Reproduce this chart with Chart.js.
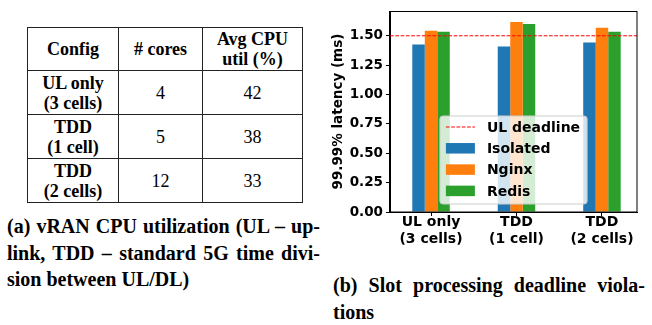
<!DOCTYPE html>
<html>
<head>
<meta charset="utf-8">
<script src="https://cdn.jsdelivr.net/npm/chart.js@4"></script>
<style>
  html, body { margin: 0; padding: 0; background: #fff; }
  body { width: 652px; height: 325px; position: relative; overflow: hidden; }
  .serif { font-family: "Liberation Serif", "Times New Roman", serif; color: #000; }
  table.cpu {
    position: absolute; left: 27px; top: 27px;
    border-collapse: collapse; font-size: 18px; line-height: 20px;
  }
  table.cpu td, table.cpu th {
    border: 1px solid #222; text-align: center; vertical-align: middle; padding: 0;
  }
  table.cpu th { font-weight: bold; height: 42px; }
  table.cpu td { height: 43px; font-weight: normal; }
  table.cpu td.cfg { font-weight: bold; }
  .caption { position: absolute; font-weight: bold; font-size: 20px; line-height: 26.7px; }
  .caption div { text-align: justify; text-align-last: justify; white-space: nowrap; }
  .caption div.last { text-align: left; text-align-last: left; }
  #box { position: absolute; left: 330px; top: 0; width: 322px; height: 250px; }
</style>
</head>
<body>
<table class="cpu serif">
  <colgroup><col style="width:91px"><col style="width:84px"><col style="width:100px"></colgroup>
  <tr><th>Config</th><th># cores</th><th>Avg CPU<br>util (%)</th></tr>
  <tr><td class="cfg">UL only<br>(3 cells)</td><td>4</td><td>42</td></tr>
  <tr><td class="cfg">TDD<br>(1 cell)</td><td>5</td><td>38</td></tr>
  <tr><td class="cfg">TDD<br>(2 cells)</td><td>12</td><td>33</td></tr>
</table>

<div class="caption serif" style="left:7px; top:213px; width:313px;">
  <div>(a) vRAN CPU utilization (UL – up-</div>
  <div>link, TDD – standard 5G time divi-</div>
  <div class="last">sion between UL/DL)</div>
</div>

<div class="caption serif" style="left:333px; top:272px; width:312px;">
  <div>(b) Slot processing deadline viola-</div>
  <div class="last">tions</div>
</div>

<div id="box"><canvas id="latencyChart" width="322" height="250"></canvas></div>

<script>
const groupLabels = [["UL only", "(3 cells)"], ["TDD", "(1 cell)"], ["TDD", "(2 cells)"]]
const groupPositions = [0, 1, 2]
const isolated = [1.425, 1.408, 1.442]
const nginx = [1.542, 1.618, 1.568]
const redis = [1.534, 1.601, 1.534]
const deadline = 1.5
const yTicks = [0, 0.25, 0.5, 0.75, 1.0, 1.25, 1.5]

const SANS = "'DejaVu Sans', sans-serif"

// dashed deadline, full frame and the in-plot legend
const overlayPlugin = {
  id: "overlay",
  afterDatasetsDraw(chart){
    const ctx = chart.ctx
    const area = chart.chartArea
    const yPix = chart.scales.y.getPixelForValue(deadline)

    ctx.save()
    ctx.strokeStyle = "#ff0000"
    ctx.lineWidth = 1
    ctx.setLineDash([3.7, 1.6])
    ctx.beginPath()
    ctx.moveTo(area.left, yPix)
    ctx.lineTo(area.right, yPix)
    ctx.stroke()
    ctx.restore()

    const entries = [{ label: "UL deadline", line: true, color: "#ff0000" }]
    chart.data.datasets.forEach((ds) => entries.push({ label: ds.label, color: ds.backgroundColor }))

    ctx.save()
    ctx.font = "bold 14px " + SANS
    const textW = Math.max(...entries.map((e) => ctx.measureText(e.label).width))
    const padL = 6, handleW = 29, gap = 12, padR = 7, rowH = 21.3
    const boxW = padL + handleW + gap + textW + padR
    const boxH = 88
    const boxX = (area.left + area.right) / 2 - boxW / 2
    const boxY = area.bottom - 8 - boxH

    ctx.beginPath()
    ctx.roundRect(boxX, boxY, boxW, boxH, 3)
    ctx.fillStyle = "rgba(255,255,255,0.8)"
    ctx.fill()
    ctx.strokeStyle = "#cccccc"
    ctx.lineWidth = 1
    ctx.stroke()

    entries.forEach((e, i) => {
      const cy = boxY + 11 + i * rowH
      const hx = boxX + padL
      if(e.line){
        ctx.save()
        ctx.strokeStyle = e.color
        ctx.lineWidth = 1
        ctx.setLineDash([3.7, 1.6])
        ctx.beginPath()
        ctx.moveTo(hx, cy)
        ctx.lineTo(hx + handleW, cy)
        ctx.stroke()
        ctx.restore()
      } else {
        ctx.fillStyle = e.color
        ctx.fillRect(hx, cy - 5.25, handleW, 10.5)
      }
      ctx.fillStyle = "#000"
      ctx.textBaseline = "middle"
      ctx.textAlign = "left"
      ctx.fillText(e.label, hx + handleW + gap, cy + 1)
    })
    ctx.restore()
  },
  afterDraw(chart){
    const ctx = chart.ctx
    const a = chart.chartArea
    ctx.save()
    ctx.strokeStyle = "#000"
    ctx.lineWidth = 1
    ctx.strokeRect(Math.round(a.left) - 0.5, Math.round(a.top) + 0.5, Math.round(a.right - a.left) + 0.5, Math.round(a.bottom - a.top) - 0.5)
    ctx.restore()
  }
}

new Chart(document.getElementById("latencyChart"), {
  type: "bar",
  data: {
    labels: groupPositions,
    datasets: [
      { label: "Isolated", data: isolated, backgroundColor: "#1f77b4" },
      { label: "Nginx", data: nginx, backgroundColor: "#ff7f0e" },
      { label: "Redis", data: redis, backgroundColor: "#2ca02c" }
    ]
  },
  options: {
    responsive: false,
    animation: false,
    categoryPercentage: 0.4386,
    barPercentage: 1.0,
    layout: { padding: { top: 8, right: 15, left: 0, bottom: 0 } },
    plugins: { legend: { display: false }, tooltip: { enabled: false } },
    scales: {
      x: {
        type: "linear",
        min: -0.48,
        max: 2.41,
        offset: false,
        afterBuildTicks(scale){
          scale.ticks = groupPositions.map((v) => ({ value: v }))
        },
        ticks: {
          callback: (v) => groupLabels[v],
          color: "#000",
          font: { family: SANS, size: 14, weight: "bold" },
          padding: -2,
          maxRotation: 0,
          autoSkip: false
        },
        grid: { drawOnChartArea: false, tickLength: 4, color: "#000", offset: false },
        border: { color: "#000" },
        afterFit(scale){ scale.height = 38 }
      },
      y: {
        min: 0,
        max: 1.71,
        afterBuildTicks(scale){
          scale.ticks = yTicks.map((v) => ({ value: v }))
        },
        ticks: {
          callback: (v) => Number(v).toFixed(2),
          color: "#000",
          font: { family: SANS, size: 13.5, weight: "bold" },
          padding: 3
        },
        grid: { drawOnChartArea: false, tickLength: 4, color: "#000" },
        border: { color: "#000" },
        title: {
          display: true,
          text: "99.99% latency (ms)",
          color: "#000",
          font: { family: SANS, size: 13.5, weight: "bold" },
          padding: 0
        },
        afterFit(scale){ scale.width = 60 }
      }
    }
  },
  plugins: [overlayPlugin]
})
</script>
</body>
</html>
